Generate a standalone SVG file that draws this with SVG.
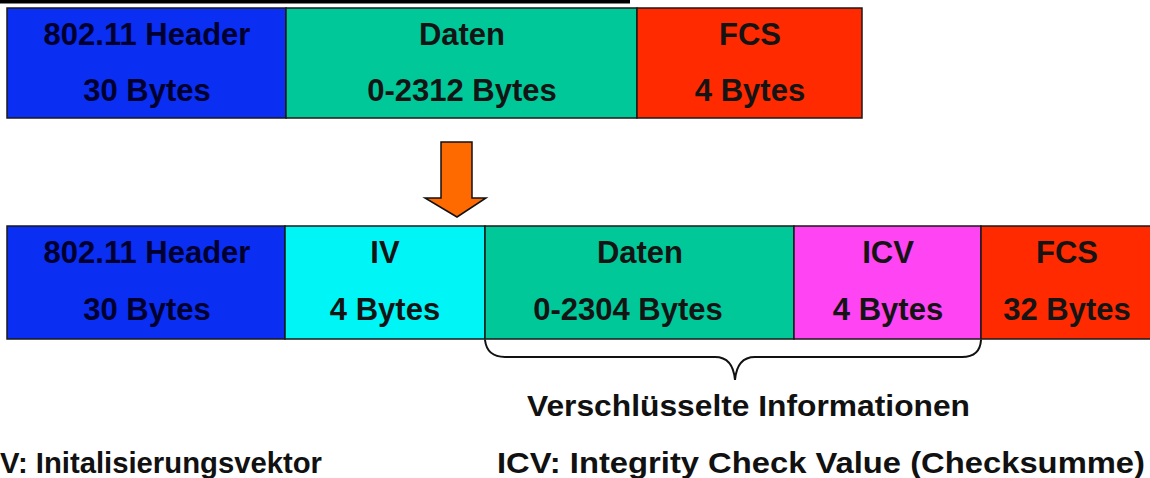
<svg xmlns="http://www.w3.org/2000/svg" width="1150" height="478" viewBox="0 0 1150 478">
<style>
.box{stroke:#1a1a1a;stroke-width:1.5}
.t{font-family:"Liberation Sans",Arial,sans-serif;font-weight:bold;font-size:31px;fill:#141414;text-anchor:middle}
.tb{fill:#00002e}
.tl{font-family:"Liberation Sans",Arial,sans-serif;font-weight:bold;font-size:30px;fill:#111}
</style>
<rect width="1150" height="478" fill="#fff"/>
<rect x="0" y="0" width="630" height="3.5" fill="#000"/>
<g id="top-header"><rect class="box" x="7" y="8" width="279" height="110" fill="#0a2ef2"/><text class="t tb" x="147" y="45">802.11 Header</text><text class="t tb" x="147" y="101">30 Bytes</text></g>
<g id="top-daten"><rect class="box" x="286" y="8" width="351" height="110" fill="#00c898"/><text class="t" x="462" y="45">Daten</text><text class="t" x="462" y="101">0-2312 Bytes</text></g>
<g id="top-fcs"><rect class="box" x="637" y="8" width="225" height="110" fill="#ff2a00"/><text class="t" x="750" y="45">FCS</text><text class="t" x="750" y="101">4 Bytes</text></g>
<g id="arrow"><polygon points="441,142 472,142 472,198 486,198 457,217 425,198 441,198" fill="#ff6a00" stroke="#111" stroke-width="1.5"/></g>
<g id="bot-header"><rect class="box" x="7" y="226" width="278" height="113" fill="#0a2ef2"/><text class="t tb" x="147" y="263">802.11 Header</text><text class="t tb" x="147" y="320">30 Bytes</text></g>
<g id="bot-iv"><rect class="box" x="285" y="226" width="200" height="113" fill="#00f6f6"/><text class="t" x="385" y="263">IV</text><text class="t" x="385" y="320">4 Bytes</text></g>
<g id="bot-daten"><rect class="box" x="485" y="226" width="309" height="113" fill="#00c898"/><text class="t" x="640" y="263">Daten</text><text class="t" x="628" y="320">0-2304 Bytes</text></g>
<g id="bot-icv"><rect class="box" x="794" y="226" width="187" height="113" fill="#ff44f4"/><text class="t" x="888" y="263" fill="#2a0830">ICV</text><text class="t" x="888" y="320" fill="#2a0830">4 Bytes</text></g>
<g id="bot-fcs"><rect class="box" x="981" y="226" width="175" height="113" fill="#ff2a00"/><text class="t" x="1067" y="263">FCS</text><text class="t" x="1067" y="320">32 Bytes</text></g>
<g id="connectors"><path d="M485,340 Q487,357 505,357 L715,357 Q733,357 735,380 Q737,357 755,357 L962,357 Q980,357 981,340" fill="none" stroke="#111" stroke-width="2"/></g>
<g id="labels">
<text class="tl" x="527" y="416" textLength="443" lengthAdjust="spacingAndGlyphs">Verschlüsselte Informationen</text>
<text class="tl" x="0" y="473" textLength="322" lengthAdjust="spacingAndGlyphs">V: Initalisierungsvektor</text>
<text class="tl" x="497" y="473" textLength="648" lengthAdjust="spacingAndGlyphs">ICV: Integrity Check Value (Checksumme)</text>
</g>
</svg>
